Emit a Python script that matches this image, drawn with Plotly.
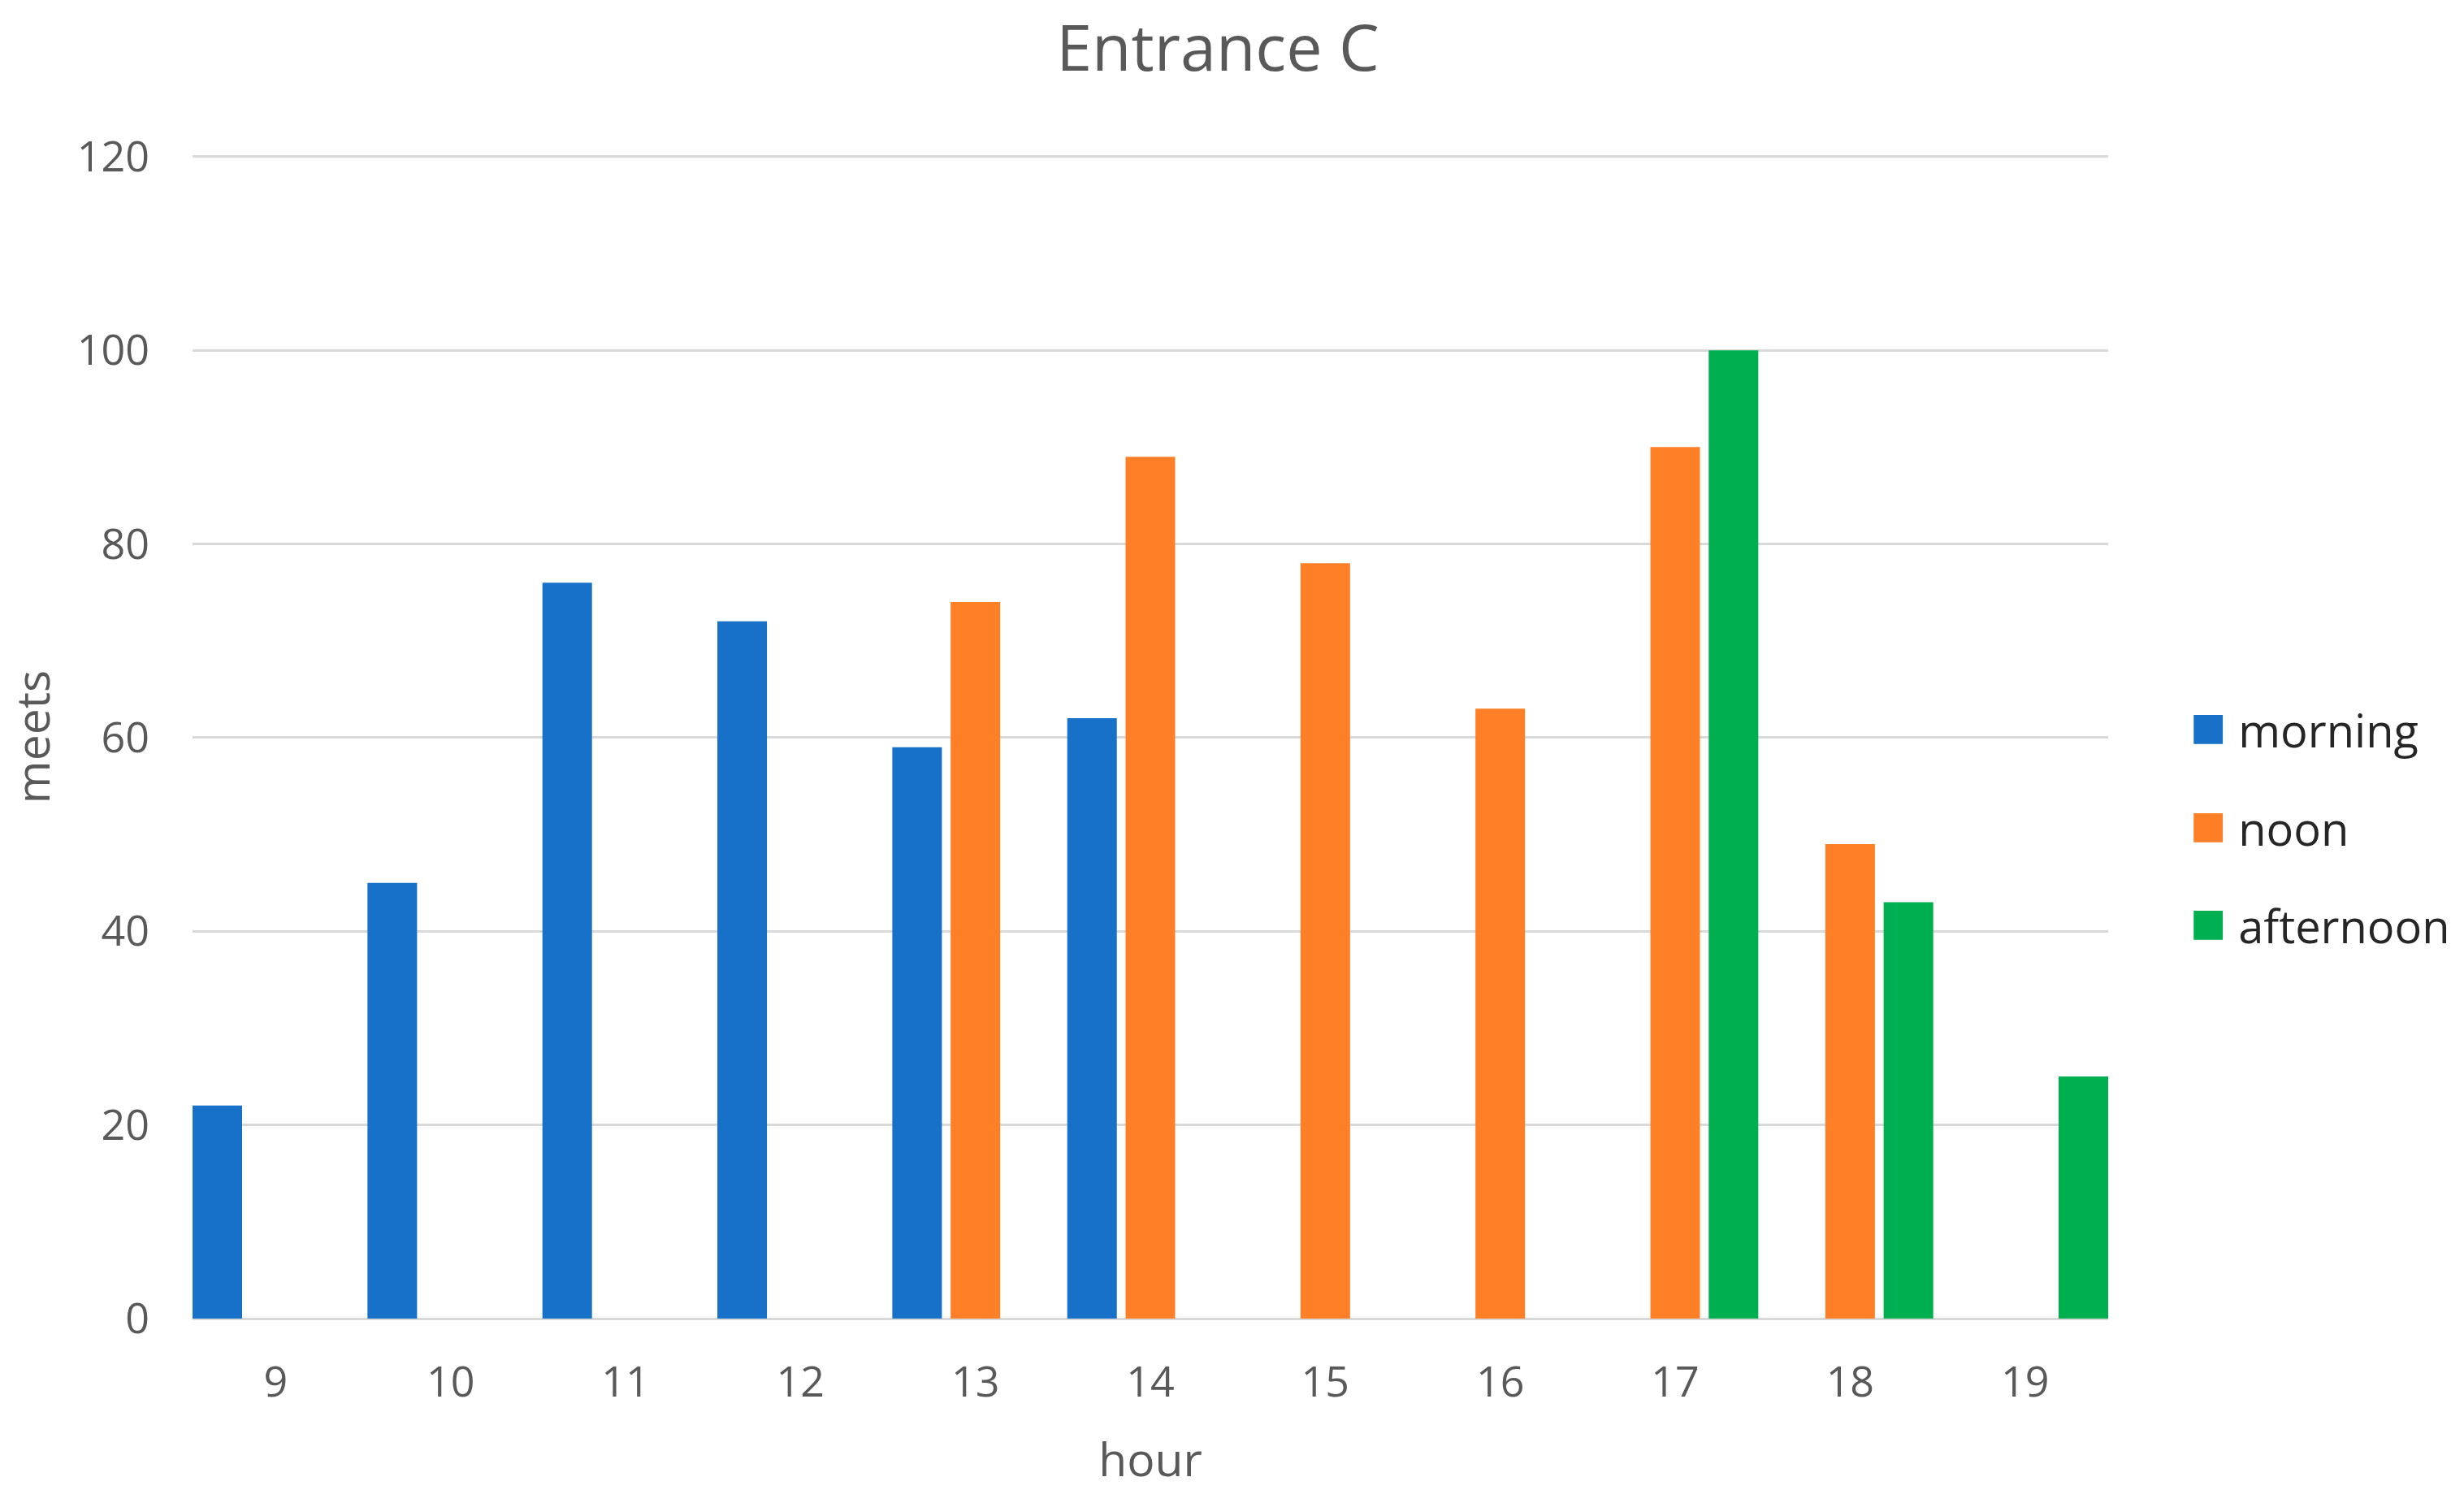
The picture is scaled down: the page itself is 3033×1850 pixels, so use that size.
import plotly.graph_objects as go

hours = ["9", "10", "11", "12", "13", "14", "15", "16", "17", "18", "19"]
morning = [22, 45, 76, 72, 59, 62, None, None, None, None, None]
noon = [None, None, None, None, 74, 89, 78, 63, 90, 49, None]
afternoon = [None, None, None, None, None, None, None, None, 100, 43, 25]

series = [
    ("morning", morning, "#1771C9"),
    ("noon", noon, "#FF7F27"),
    ("afternoon", afternoon, "#00B050"),
]

FONT = "Open Sans"
fig = go.Figure()
for name, vals, col in series:
    fig.add_trace(go.Bar(x=hours, y=vals, name=name, marker_color=col,
                         marker_line_width=0, showlegend=False))
# legend entries with a large colour swatch
for name, vals, col in series:
    fig.add_trace(go.Scatter(
        x=[None], y=[None], mode="lines", line=dict(width=0, color=col),
        name=f'<span style="color:{col};font-size:74px">■</span> {name}',
        hoverinfo="skip", legendgroup=name))

delta = 0.025
fig.update_layout(
    width=3033, height=1850,
    paper_bgcolor="white", plot_bgcolor="white",
    margin=dict(l=237, r=438, t=191, b=227, autoexpand=False),
    barmode="group", bargap=0, bargroupgap=0.15,
    font=dict(family=FONT, color="#595959", size=52),
    title=dict(text="Entrance C", x=1499 / 3033, xanchor="center", y=1 - 59 / 1850,
               yanchor="middle", font=dict(size=79, color="#595959", family=FONT)),
    legend=dict(x=2656 / 3033, xref="container", y=1 - 1019 / 1850, yref="container",
                yanchor="middle", xanchor="left",
                font=dict(size=56, color="#262626", family=FONT),
                tracegroupgap=45, itemwidth=30),
    showlegend=True,
)
fig.update_xaxes(type="category", range=[-0.5 + delta, 10.5 - delta],
                 showgrid=False, showline=False, ticks="", automargin=False,
                 ticklabelstandoff=43,
                 title=dict(text="hour", standoff=44,
                            font=dict(size=57, color="#595959", family=FONT)))
fig.update_yaxes(range=[0, 120.15], tickvals=[0, 20, 40, 60, 80, 100, 120],
                 showgrid=True, gridcolor="#D9D9D9",
                 gridwidth=3, zeroline=True, zerolinecolor="#D9D9D9", zerolinewidth=3,
                 showline=False, ticks="", ticklabelstandoff=52, automargin=False,
                 title=dict(text="meets", standoff=52,
                            font=dict(size=57, color="#595959", family=FONT)))

fig.write_html("out.html", config={"displayModeBar": False},
               post_script="document.body.style.margin='0';document.body.style.overflow='hidden';")
